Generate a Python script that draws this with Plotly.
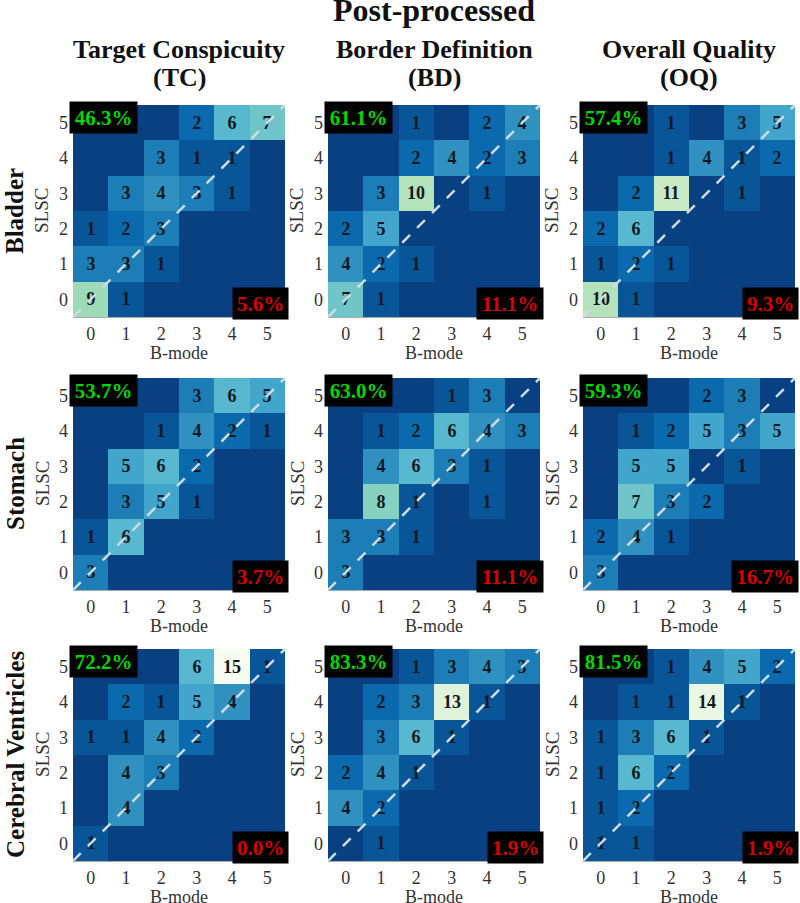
import plotly.graph_objects as go
from plotly.subplots import make_subplots

W, H = 800, 903
scores = [0, 1, 2, 3, 4, 5]
col_titles = [('Target Conspicuity', '(TC)'), ('Border Definition', '(BD)'), ('Overall Quality', '(OQ)')]
row_titles = ['Bladder', 'Stomach', 'Cerebral Ventricles']

# counts, rows listed from SLSC=0 up to SLSC=5
bladder_tc = [[9,1,0,0,0,0],[3,3,1,0,0,0],[1,2,3,0,0,0],[0,3,4,3,1,0],[0,0,3,1,1,0],[0,0,0,2,6,7]]
bladder_bd = [[7,1,0,0,0,0],[4,2,1,0,0,0],[2,5,0,0,0,0],[0,3,10,0,1,0],[0,0,2,4,2,3],[0,0,1,0,2,4]]
bladder_oq = [[10,1,0,0,0,0],[1,2,1,0,0,0],[2,6,0,0,0,0],[0,2,11,0,1,0],[0,0,1,4,1,2],[0,0,1,0,3,5]]
stomach_tc = [[3,0,0,0,0,0],[1,6,0,0,0,0],[0,3,5,1,0,0],[0,5,6,2,0,0],[0,0,1,4,2,1],[0,0,0,3,6,5]]
stomach_bd = [[3,0,0,0,0,0],[3,3,1,0,0,0],[0,8,1,0,1,0],[0,4,6,3,1,0],[0,1,2,6,4,3],[0,0,0,1,3,0]]
stomach_oq = [[3,0,0,0,0,0],[2,4,1,0,0,0],[0,7,3,2,0,0],[0,5,5,0,1,0],[0,1,2,5,3,5],[0,0,0,2,3,0]]
ventricles_tc = [[1,0,0,0,0,0],[0,4,0,0,0,0],[0,4,3,0,0,0],[1,1,4,2,0,0],[0,2,1,5,4,0],[0,0,0,6,15,1]]
ventricles_bd = [[0,1,0,0,0,0],[4,2,0,0,0,0],[2,4,1,0,0,0],[0,3,6,1,0,0],[0,2,3,13,1,0],[0,0,1,3,4,3]]
ventricles_oq = [[1,1,0,0,0,0],[1,2,0,0,0,0],[1,6,2,0,0,0],[1,3,6,1,0,0],[0,1,1,14,1,0],[0,0,1,4,5,2]]
panels = [bladder_tc, bladder_bd, bladder_oq,
          stomach_tc, stomach_bd, stomach_oq,
          ventricles_tc, ventricles_bd, ventricles_oq]

above_pct = ['46.3%','61.1%','57.4%','53.7%','63.0%','59.3%','72.2%','83.3%','81.5%']
below_pct = ['5.6%','11.1%','9.3%','3.7%','11.1%','16.7%','0.0%','1.9%','1.9%']

gnbu_r = [[0,'#084081'],[0.125,'#0868ac'],[0.25,'#2b8cbe'],[0.375,'#4eb3d3'],[0.5,'#7bccc4'],
          [0.625,'#a8ddb5'],[0.75,'#ccebc5'],[0.875,'#e0f3db'],[1,'#f7fcf0']]

# panel boxes in pixels
lefts = [73, 328, 583]
tops = [105, 378, 649]
side = 212
serif = 'Liberation Serif'
ink = '#333333'

def px(x): return x/W
def py(y): return 1-y/H

def label(x, y, text, size, color='#111111', angle=0):
    fig.add_annotation(x=px(x), y=py(y), xref='paper', yref='paper', xanchor='center', yanchor='middle',
                       text=text, textangle=angle, showarrow=False,
                       font=dict(family=serif, size=size, color=color))

fig = make_subplots(rows=3, cols=3)
for r in range(3):
    for c in range(3):
        i = r*3 + c
        z = panels[i]
        txt = [[str(v) if v else '' for v in row] for row in z]
        fig.add_trace(go.Heatmap(x=scores, y=scores, z=z, zmin=0, zmax=15, colorscale=gnbu_r,
                                 showscale=False, text=txt, texttemplate='<b>%{text}</b>',
                                 textfont=dict(family=serif, size=18, color='#101820')),
                      row=r+1, col=c+1)
        fig.update_xaxes(domain=[px(lefts[c]), px(lefts[c]+side)], row=r+1, col=c+1,
                         range=[-0.5, 5.5], tickvals=scores, ticks='', showgrid=False, zeroline=False,
                         showline=True, linecolor='#aaaaaa', linewidth=1,
                         tickfont=dict(family=serif, size=18, color=ink))
        fig.update_yaxes(domain=[py(tops[r]+side), py(tops[r])], row=r+1, col=c+1,
                         range=[-0.5, 5.5], tickvals=scores, ticks='', showgrid=False, zeroline=False,
                         ticklabelstandoff=4, tickfont=dict(family=serif, size=18, color=ink))
        axn = '' if i == 0 else str(i+1)
        fig.add_shape(type='line', x0=-0.5, y0=-0.5, x1=5.5, y1=5.5, xref='x'+axn, yref='y'+axn,
                      line=dict(color='#cfdce4', width=2.5, dash='11px,10px'))
        label(lefts[c]+side/2, tops[r]+side+36, 'B-mode', 18, ink)
        label(lefts[c]-31, tops[r]+side/2, 'SLSC', 19, ink, -90)
        # percentage boxes, drawn after the labels so they sit on top of the panel
        fig.add_annotation(x=px(lefts[c]-4), y=py(tops[r]-4), xref='paper', yref='paper',
                           xanchor='left', yanchor='top', text='<b>'+above_pct[i]+'</b>', showarrow=False,
                           bgcolor='black', width=67, height=31, borderpad=0,
                           font=dict(family=serif, size=21, color='#00d800'))
        fig.add_annotation(x=px(lefts[c]+side+4), y=py(tops[r]+side+3), xref='paper', yref='paper',
                           xanchor='right', yanchor='bottom', text='<b>'+below_pct[i]+'</b>', showarrow=False,
                           bgcolor='black', width=55 if len(below_pct[i]) == 4 else 66, height=31, borderpad=0,
                           font=dict(family=serif, size=21, color='#d80000'))

for c, (t1, t2) in enumerate(col_titles):
    label(lefts[c]+side/2, 50, '<b>'+t1+'</b>', 26)
    label(lefts[c]+side/2, 77, '<b>'+t2+'</b>', 26)
for r, t in enumerate(row_titles):
    label(15, tops[r]+side/2, '<b>'+t+'</b>', 25, angle=-90)
label(434, 10, '<b>Post-processed</b>', 32)

fig.update_layout(width=W, height=H, margin=dict(l=0, r=0, t=0, b=0), autosize=False,
                  paper_bgcolor='white', plot_bgcolor='white', showlegend=False)
fig.write_html('out.html', config={'displayModeBar': False}, post_script="document.body.style.margin='0';")
